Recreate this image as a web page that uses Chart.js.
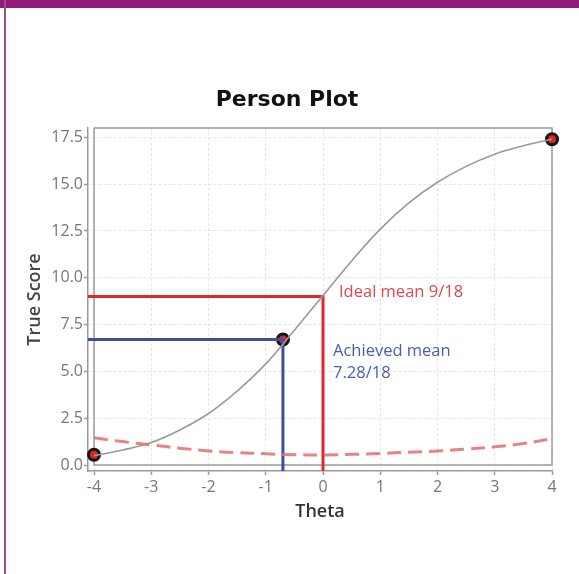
<!DOCTYPE html>
<html>
<head>
<meta charset="utf-8">
<script src="https://cdn.jsdelivr.net/npm/chart.js@4.4.1/dist/chart.umd.min.js"></script>
<style>
  html, body { margin: 0; padding: 0; background: #fff; }
  #wrap { position: relative; width: 579px; height: 574px; overflow: hidden; }
  #c { position: absolute; left: 0; top: 0; }
  #topbar { position: absolute; left: 0; top: 0; width: 579px; height: 8px; background: #901c78; }
  #leftbar { position: absolute; left: 4px; top: 0; width: 2px; height: 574px; background: #a04a90; }
</style>
</head>
<body>
<div id="wrap">
  <canvas id="c" width="579" height="574"></canvas>
  <div id="topbar"></div>
  <div id="leftbar"></div>
</div>
<script>
// ---- data ----
const thetaGrid = [-4, -3.5, -3, -2.5, -2, -1.5, -1, -0.5, 0, 0.5, 1, 1.5, 2, 2.5, 3, 3.5, 4];
const trueScore = [0.5, 0.8, 1.2, 1.87, 2.75, 3.95, 5.4, 7.2, 9.05, 10.9, 12.6, 14.0, 15.1, 15.95, 16.6, 17.05, 17.4];
const errorCurve = [1.45, 1.25, 1.07, 0.9, 0.75, 0.66, 0.6, 0.55, 0.54, 0.57, 0.62, 0.68, 0.75, 0.85, 0.97, 1.15, 1.4];
const markerTheta = [-4, -0.7, 4];
const markerScore = [0.55, 6.7, 17.4];
const idealTheta = 0;
const idealMean = 9;
const achievedTheta = -0.7;
const achievedScore = 6.7;
const xTicks = [-4, -3, -2, -1, 0, 1, 2, 3, 4];
const yTicks = [0, 2.5, 5, 7.5, 10, 12.5, 15, 17.5];
const idealLabel = 'Ideal mean 9/18';
const achievedLabel = ['Achieved mean', '7.28/18'];

// axis ranges (axes are drawn slightly offset from the plot frame)
const X_MIN = -4, X_MAX = 4, Y_MIN = 0, Y_MAX = 18;
const X_AXIS_MIN = X_MIN - 0.105;
const Y_AXIS_MIN = Y_MIN - 0.32;

const frameNotes = {
  id: 'frameNotes',
  beforeDatasetsDraw(chart) {
    const {ctx, scales: {x, y}} = chart;
    const l = x.getPixelForValue(X_MIN), r = x.getPixelForValue(X_MAX);
    const t = y.getPixelForValue(Y_MAX), b = y.getPixelForValue(Y_MIN);
    ctx.save();
    ctx.strokeStyle = '#9c9c9c';
    ctx.lineWidth = 1.5;
    ctx.strokeRect(l, t, r - l, b - t);
    ctx.restore();
  },
  afterDatasetsDraw(chart) {
    const {ctx, scales: {x, y}} = chart;
    ctx.save();
    ctx.font = '16.5px "Open Sans"';
    ctx.textBaseline = 'middle';
    ctx.textAlign = 'left';
    ctx.fillStyle = '#e0484f';
    ctx.fillText(idealLabel, x.getPixelForValue(idealTheta) + 16, y.getPixelForValue(idealMean) - 4);
    ctx.fillStyle = '#4a5bb0';
    const ax = x.getPixelForValue(idealTheta) + 10;
    const ay = y.getPixelForValue(achievedScore);
    ctx.fillText(achievedLabel[0], ax, ay + 11.5);
    ctx.fillText(achievedLabel[1], ax, ay + 33.5);
    ctx.restore();
  }
};

const pts = (xs, ys) => xs.map((v, i) => ({x: v, y: ys[i]}));

new Chart(document.getElementById('c'), {
  type: 'scatter',
  data: {
    datasets: [
      {
        data: pts(thetaGrid, errorCurve),
        showLine: true, borderColor: 'rgba(224,110,110,0.85)', borderWidth: 3,
        borderDash: [14, 7], pointRadius: 0, tension: 0.4, clip: false
      },
      {
        data: pts(thetaGrid, trueScore),
        showLine: true, borderColor: '#9a9a9a', borderWidth: 1.6,
        pointRadius: 0, tension: 0.4, clip: false
      },
      {
        data: [{x: X_AXIS_MIN, y: idealMean}, {x: idealTheta, y: idealMean}, {x: idealTheta, y: Y_AXIS_MIN}],
        showLine: true, borderColor: '#e3262d', borderWidth: 3, pointRadius: 0, tension: 0, clip: false
      },
      {
        data: [{x: X_AXIS_MIN, y: achievedScore}, {x: achievedTheta, y: achievedScore}, {x: achievedTheta, y: Y_AXIS_MIN}],
        showLine: true, borderColor: '#3d4ea3', borderWidth: 3, pointRadius: 0, tension: 0, clip: false
      },
      {
        data: pts(markerTheta, markerScore),
        showLine: false, pointRadius: 5.5, pointBackgroundColor: '#e02424',
        pointBorderColor: '#141414', pointBorderWidth: 3, clip: false
      }
    ]
  },
  options: {
    responsive: false,
    animation: false,
    events: [],
    layout: { padding: { left: 22, right: 27, top: 0, bottom: 0 } },
    plugins: {
      legend: { display: false },
      tooltip: { enabled: false },
      title: {
        display: true, text: 'Person Plot', color: '#111',
        font: { family: 'DejaVu Sans', size: 22, weight: 'bold', lineHeight: 1.2 },
        padding: { top: 87.3, bottom: 14.3 }
      }
    },
    scales: {
      x: {
        type: 'linear', min: X_AXIS_MIN, max: X_MAX,
        afterBuildTicks: s => { s.ticks = xTicks.map(v => ({value: v})); },
        afterFit: s => { s.height = 103; },
        ticks: { color: '#777', font: { family: 'Open Sans', size: 16 }, padding: 2.4, callback: v => String(v), maxRotation: 0, autoSkip: false },
        grid: { color: '#e6e6e6', lineWidth: 1, tickLength: 4, tickColor: '#999', tickWidth: 1.5 },
        border: { display: true, color: '#999', width: 1.5, dash: [3, 2] },
        title: { display: true, text: 'Theta', color: '#333', font: { family: 'Open Sans', size: 18, weight: '600', lineHeight: 1.2 }, padding: { top: 0, bottom: 51 } }
      },
      y: {
        type: 'linear', min: Y_AXIS_MIN, max: Y_MAX,
        afterBuildTicks: s => { s.ticks = yTicks.map(v => ({value: v})); },
        afterFit: s => { s.width = 66; },
        ticks: { color: '#777', font: { family: 'Open Sans', size: 16 }, padding: 1, callback: v => v.toFixed(1), autoSkip: false },
        grid: { color: '#e6e6e6', lineWidth: 1, tickLength: 4, tickColor: '#999', tickWidth: 1.5 },
        border: { display: true, color: '#999', width: 1.5, dash: [3, 2] },
        title: { display: true, text: 'True Score', color: '#444', font: { family: 'Open Sans', size: 18, weight: '600', lineHeight: 1.2 }, padding: { top: 2.2, bottom: 0 } }
      }
    }
  },
  plugins: [frameNotes]
});
</script>
</body>
</html>
